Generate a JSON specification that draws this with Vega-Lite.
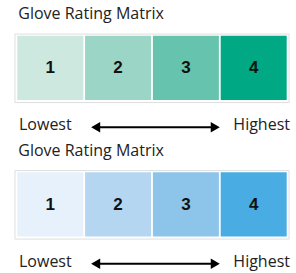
{
  "$schema": "https://vega.github.io/schema/vega-lite/v6.json",
  "width": 296,
  "height": 273,
  "autosize": {"type": "none"},
  "padding": 0,
  "background": "white",
  "config": {"view": {"stroke": null}},
  "datasets": {
    "cells": [
      {"panel": "Green", "rating": 1, "cell": "G1"},
      {"panel": "Green", "rating": 2, "cell": "G2"},
      {"panel": "Green", "rating": 3, "cell": "G3"},
      {"panel": "Green", "rating": 4, "cell": "G4"},
      {"panel": "Blue", "rating": 1, "cell": "B1"},
      {"panel": "Blue", "rating": 2, "cell": "B2"},
      {"panel": "Blue", "rating": 3, "cell": "B3"},
      {"panel": "Blue", "rating": 4, "cell": "B4"}
    ],
    "panels": [
      {"panel": "Green", "title": "Glove Rating Matrix", "low": "Lowest", "high": "Highest"},
      {"panel": "Blue", "title": "Glove Rating Matrix", "low": "Lowest", "high": "Highest"}
    ]
  },
  "encoding": {
    "y": {"field": "panel", "type": "nominal", "axis": null,
      "scale": {"type": "band", "domain": ["Green", "Blue"], "range": [35.7, 236.5], "paddingInner": 0.529, "paddingOuter": 0}}
  },
  "layer": [
    {
      "data": {"name": "panels"},
      "mark": {"type": "rect", "fill": "white", "stroke": "#dedede", "strokeWidth": 1},
      "encoding": {
        "x": {"datum": 1, "type": "ordinal", "bandPosition": -0.035, "axis": null,
          "scale": {"type": "band", "domain": [1, 2, 3, 4], "range": [17.3, 286.7], "paddingInner": 0.0265, "paddingOuter": 0}},
        "x2": {"datum": 4, "bandPosition": 1.035},
        "y": {"field": "panel", "type": "nominal", "bandPosition": -0.025},
        "y2": {"field": "panel", "bandPosition": 1.04}
      }
    },
    {
      "data": {"name": "cells"},
      "mark": {"type": "rect"},
      "encoding": {
        "x": {"field": "rating", "type": "ordinal"},
        "color": {"field": "cell", "type": "nominal", "legend": null,
          "scale": {"domain": ["G1", "G2", "G3", "G4", "B1", "B2", "B3", "B4"],
            "range": ["#cce8df", "#9bd5c5", "#66c3ad", "#00a884", "#e7f1fb", "#b4d6f1", "#8dc4ea", "#49ade3"]}}
      }
    },
    {
      "data": {"name": "cells"},
      "mark": {"type": "text", "font": "Liberation Sans", "fontWeight": "bold", "fontSize": 17, "baseline": "alphabetic", "align": "center", "dy": 5.5, "color": "#111"},
      "encoding": {
        "x": {"field": "rating", "type": "ordinal"},
        "text": {"field": "rating", "type": "ordinal"}
      }
    },
    {
      "data": {"name": "panels"},
      "mark": {"type": "text", "font": "Open Sans", "fontSize": 16, "baseline": "alphabetic", "align": "left", "dx": 1, "dy": -16.7, "color": "#222"},
      "encoding": {
        "x": {"datum": 1, "type": "ordinal", "bandPosition": 0},
        "y": {"field": "panel", "type": "nominal", "bandPosition": 0},
        "text": {"field": "title"}
      }
    },
    {
      "data": {"name": "panels"},
      "mark": {"type": "text", "font": "Open Sans", "fontSize": 16, "baseline": "alphabetic", "align": "left", "dx": 1.7, "dy": 94.3, "color": "#222"},
      "encoding": {
        "x": {"datum": 1, "type": "ordinal", "bandPosition": 0},
        "y": {"field": "panel", "type": "nominal", "bandPosition": 0},
        "text": {"field": "low"}
      }
    },
    {
      "data": {"name": "panels"},
      "mark": {"type": "text", "font": "Open Sans", "fontSize": 16, "baseline": "alphabetic", "align": "right", "dx": 3.3, "dy": 94.3, "color": "#222"},
      "encoding": {
        "x": {"datum": 4, "type": "ordinal", "bandPosition": 1},
        "y": {"field": "panel", "type": "nominal", "bandPosition": 0},
        "text": {"field": "high"}
      }
    },
    {
      "data": {"name": "panels"},
      "mark": {"type": "rule", "color": "black", "strokeWidth": 2, "yOffset": 91.6},
      "encoding": {
        "x": {"datum": 2, "type": "ordinal", "bandPosition": 0.165},
        "x2": {"datum": 3, "bandPosition": 0.94},
        "y": {"field": "panel", "type": "nominal", "bandPosition": 0}
      }
    },
    {
      "data": {"name": "panels"},
      "mark": {"type": "point", "shape": "triangle-left", "filled": true, "opacity": 1, "color": "black", "size": 110, "yOffset": 91.6},
      "encoding": {
        "x": {"datum": 2, "type": "ordinal", "bandPosition": 0.16},
        "y": {"field": "panel", "type": "nominal", "bandPosition": 0}
      }
    },
    {
      "data": {"name": "panels"},
      "mark": {"type": "point", "shape": "triangle-right", "filled": true, "opacity": 1, "color": "black", "size": 110, "yOffset": 91.6},
      "encoding": {
        "x": {"datum": 3, "type": "ordinal", "bandPosition": 0.945},
        "y": {"field": "panel", "type": "nominal", "bandPosition": 0}
      }
    }
  ]
}
